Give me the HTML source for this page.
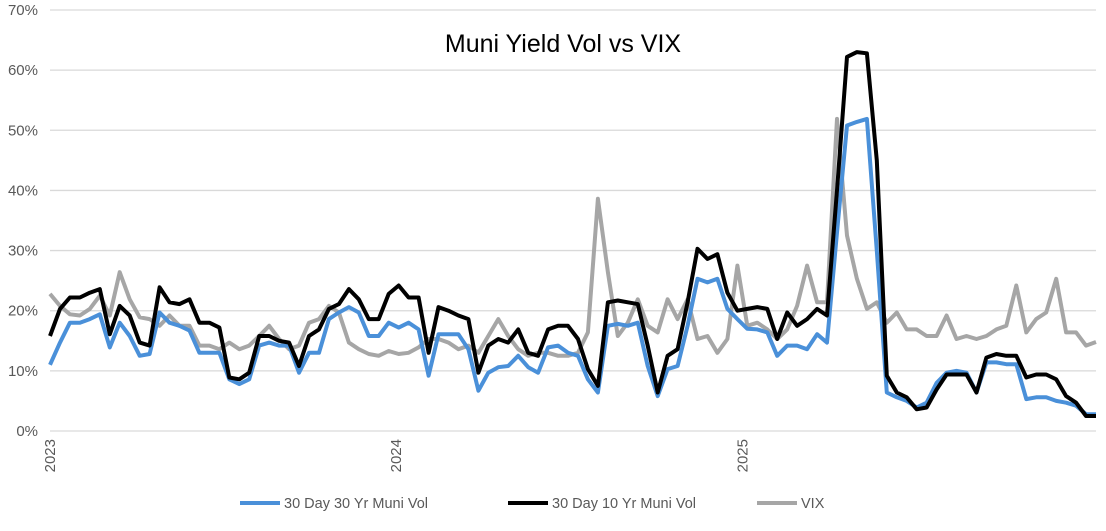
<!DOCTYPE html>
<html><head><meta charset="utf-8">
<style>
html,body{margin:0;padding:0;background:#fff;}
svg{display:block;font-family:"Liberation Sans",sans-serif;}
</style></head>
<body>
<svg id="chart" width="1106" height="531" viewBox="0 0 1106 531" xmlns="http://www.w3.org/2000/svg">
<text x="563" y="52" text-anchor="middle" font-size="25" fill="#000">Muni Yield Vol vs VIX</text>
<g id="grid"></g>
<g id="yticks"></g>
<g id="xticks"></g>
<g id="series"></g>
<g>
 <g>
  <line x1="240" y1="503" x2="280" y2="503" stroke="#4a90d9" stroke-width="4"/>
  <text x="284" y="508" font-size="14.5" fill="#595959">30 Day 30 Yr Muni Vol</text>
 </g>
 <g>
  <line x1="508" y1="503" x2="548" y2="503" stroke="#000" stroke-width="4"/>
  <text x="552" y="508" font-size="14.5" fill="#595959">30 Day 10 Yr Muni Vol</text>
 </g>
 <g>
  <line x1="757" y1="503" x2="797" y2="503" stroke="#a6a6a6" stroke-width="4"/>
  <text x="801" y="508" font-size="14.5" fill="#595959">VIX</text>
 </g>
</g>
</svg>
<script>
const yTicks = [0,10,20,30,40,50,60,70];
const yearLabels = ["2023","2024","2025"];
const yearIndex = [0, 34.75, 69.5];
const muni30 = [11,14.7,18,18,18.6,19.4,13.9,18,15.8,12.5,12.8,19.7,18,17.5,16.7,13,13,13,8.6,7.8,8.6,14.2,14.7,14.2,14.2,9.7,13,13,18.6,19.7,20.6,19.7,15.8,15.8,18,17.2,
18,16.9,9.2,16.1,16.1,16.1,13.6,6.7,9.7,10.6,10.8,12.5,10.6,9.7,13.9,14.2,13,12.5,8.6,6.4,17.5,17.8,17.5,18,10.8,5.8,10.3,10.8,17.5,25.3,24.7,25.3,20.3,18.6,17,
16.9,16.4,12.5,14.2,14.2,13.6,16.1,14.7,33,50.8,51.4,51.9,30,6.4,5.6,5,3.9,4.7,8,9.7,10,9.7,6.4,11.4,11.4,11.1,11.1,5.3,5.6,5.6,5,4.7,4.2,2.8,2.8];
const muni10 = [15.8,20.3,22.2,22.2,23,23.6,16.1,20.8,19.2,14.7,14.2,23.9,21.4,21.1,21.9,18,18,17.2,8.9,8.6,9.7,15.8,15.8,15,14.7,10.8,15.8,16.9,20.3,21.1,23.6,21.9,18.6,18.6,22.8,24.2,
22.2,22.2,13,20.6,20,19.2,18.6,9.7,14.2,15.3,14.7,16.9,13,12.5,16.9,17.5,17.5,15.3,10.3,7.5,21.4,21.7,21.4,21.1,14.2,6.4,12.5,13.6,21.4,30.3,28.6,29.4,23,20,20.3,
20.6,20.3,15.3,19.7,17.5,18.6,20.3,19.2,40,62.2,63,62.8,45,9.2,6.4,5.6,3.6,3.9,6.9,9.4,9.4,9.4,6.4,12.2,12.8,12.5,12.5,8.9,9.4,9.4,8.6,5.8,4.7,2.5,2.5];
const vix = [22.8,20.8,19.4,19.2,20.3,22.5,19.2,26.4,21.9,18.9,18.6,17.5,19.2,17.5,17.5,14.2,14.2,13.6,14.7,13.6,14.2,15.8,17.5,15.3,13.6,14.2,18,18.6,20.8,19.7,14.7,13.6,12.8,12.5,13.3,12.8,
13,13.9,15.3,15.3,14.7,13.6,14.2,13,15.8,18.6,15.8,13.6,12.5,13,13,12.5,12.5,13,16.4,38.6,26.4,15.8,18,21.9,17.5,16.4,21.9,18.6,21.9,15.3,15.8,13,15.3,27.5,17.5,
18,16.9,15.3,16.9,20.8,27.5,21.4,21.4,51.9,32.5,25.3,20.3,21.4,18,19.7,16.9,16.9,15.8,15.8,19.2,15.3,15.8,15.3,15.8,16.9,17.5,24.2,16.4,18.6,19.7,25.3,16.4,16.4,14.2,14.8];

const NS="http://www.w3.org/2000/svg";
const X0=50, X1=1096, Y0=431, Y70=10;
function xs(i){return X0 + i*(X1-X0)/(muni30.length-1);}
function ys(v){return Y0 - v*(Y0-Y70)/70;}
function mk(tag,attrs,parent){const e=document.createElementNS(NS,tag);for(const k in attrs)e.setAttribute(k,attrs[k]);parent.appendChild(e);return e;}

const grid=document.getElementById('grid'), yt=document.getElementById('yticks'), xt=document.getElementById('xticks'), ser=document.getElementById('series');
yTicks.forEach(t=>{
  const l=mk('line',{x1:X0,x2:X1,y1:ys(t),y2:ys(t),stroke:'#d9d9d9','stroke-width':1.3},grid);
  
  
  const tx=mk('text',{x:38,y:ys(t)+5,'text-anchor':'end','font-size':15,fill:'#595959'},yt);
  tx.textContent=t+'%';
  
  
});
yearLabels.forEach((lab,k)=>{
  const x=xs(yearIndex[k]);
  const tx=mk('text',{x:0,y:0,'text-anchor':'end','font-size':15,fill:'#595959',transform:`translate(${x+5},439) rotate(-90)`},xt);
  tx.textContent=lab;
  
  
});
function line(data,color,name){
  const d=data.map((v,i)=>(i?'L':'M')+xs(i).toFixed(1)+','+ys(v).toFixed(1)).join(' ');
  const p=mk('path',{d:d,fill:'none',stroke:color,'stroke-width':4,'stroke-linejoin':'round'},ser);
  
  
}
line(vix,'#a6a6a6','vix-line');
line(muni30,'#4a90d9','muni-30yr-line');
line(muni10,'#000000','muni-10yr-line');
</script>
</body></html>
